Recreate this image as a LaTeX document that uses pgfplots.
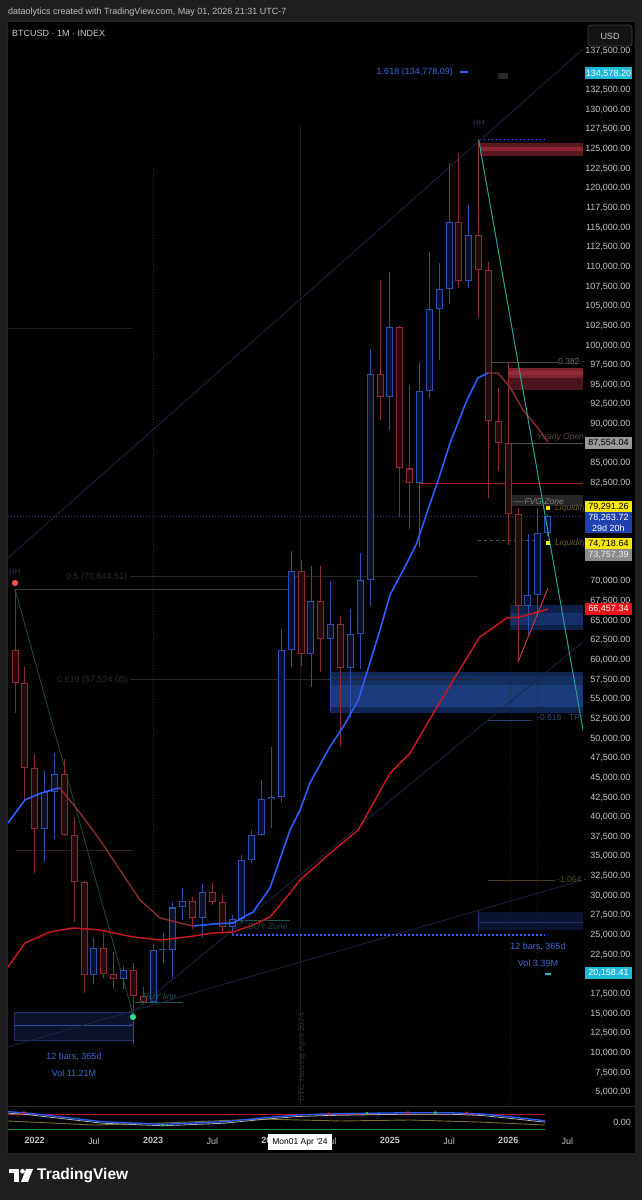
\documentclass[border=0pt]{standalone}
\usepackage{pgfplots}
\pgfplotsset{compat=1.18}
\usepackage{pgfplotstable}
\usepackage{fontspec}
\setmainfont{Liberation Sans}
\usetikzlibrary{arrows.meta}

\definecolor{pagebg}{HTML}{1E1E1E}
\definecolor{tickc}{HTML}{C4C4C4}
\definecolor{upline}{HTML}{2B4FB0}
\definecolor{upfill}{HTML}{0A1230}
\definecolor{dnline}{HTML}{8E2A32}
\definecolor{dnfill}{HTML}{260A0E}
\definecolor{fastblue}{HTML}{2D5CFF}
\definecolor{fastred}{HTML}{8C2A2C}
\definecolor{slowred}{HTML}{C8161D}
\definecolor{tealc}{HTML}{26A69A}
\definecolor{navy}{HTML}{1B2645}
\definecolor{dimg}{HTML}{262626}
\definecolor{measb}{HTML}{3E6AD0}
\definecolor{cyanl}{HTML}{1EB8D8}
\definecolor{yell}{HTML}{F7E600}
\definecolor{zAa}{HTML}{5A1820}
\definecolor{zAb}{HTML}{8C2634}
\definecolor{zBa}{HTML}{4C141C}
\definecolor{zBb}{HTML}{7E2230}
\definecolor{zBc}{HTML}{962A3A}
\definecolor{zCa}{HTML}{0E1F48}
\definecolor{zCb}{HTML}{16306A}
\definecolor{zDa}{HTML}{102553}
\definecolor{zDb}{HTML}{142E62}
\definecolor{zDc}{HTML}{1C3B7C}
\definecolor{fvgc}{HTML}{262626}
\definecolor{mboxa}{HTML}{0A132A}
\definecolor{mborda}{HTML}{1E3264}
\definecolor{marrow}{HTML}{2D4B96}
\definecolor{mboxb}{HTML}{0A1430}
\definecolor{mlineb}{HTML}{1E3470}
\definecolor{brownd}{HTML}{301E16}
\definecolor{redlvl}{HTML}{B01B1B}
\definecolor{curdot}{HTML}{2A3A78}
\definecolor{tpline}{HTML}{2A3F70}
\definecolor{fibline}{HTML}{4A3A22}
\definecolor{buyteal}{HTML}{1A5A50}
\definecolor{greend}{HTML}{1C5034}
\definecolor{pinkc}{HTML}{D03040}
\definecolor{reddot}{HTML}{FF4D4D}
\definecolor{greendot}{HTML}{2FE08A}
\definecolor{indred}{HTML}{B4181E}
\definecolor{indgreen}{HTML}{14961E}
\definecolor{indyel}{HTML}{786E32}
\definecolor{inddotg}{HTML}{28C83C}
\definecolor{inddotr}{HTML}{DC1E28}
\definecolor{fibblue}{HTML}{3A66D8}
\definecolor{hhc}{HTML}{1E3566}
\definecolor{yopen}{HTML}{5A4848}
\definecolor{liq}{HTML}{6A6030}
\definecolor{tptext}{HTML}{2F4A82}
\definecolor{ttext}{HTML}{5A4A30}
\definecolor{buytext}{HTML}{1E4A4A}
\definecolor{curbox}{HTML}{1E40B0}
\definecolor{redbox}{HTML}{E8141A}

\newcommand{\fs}[1]{\fontsize{#1}{#1}\selectfont}

% month index: 0 = Nov 2021
\pgfplotstableread{
i o h l c
3 38500 45820 34320 43200
4 43200 48190 37160 45500
8 19900 24670 18780 23300
11 19400 21000 18180 20500
14 16500 23900 16500 23100
15 23100 25250 21400 23150
16 23150 29180 19570 28500
17 28500 30990 26940 29300
19 27200 31430 24750 30500
22 26000 27480 24900 27000
23 27000 35150 26540 34500
24 34500 38420 34100 37700
25 37700 44700 37600 42300
26 42300 48970 38550 42600
27 42600 63970 41880 61200
28 61200 73800 59100 71300
30 60700 71950 56550 67500
32 62700 70000 53550 64600
34 58970 66500 52550 63300
35 63300 73600 58900 70200
36 70200 99600 66800 96400
38 93400 109300 89200 102400
41 82500 97900 74400 94200
42 94200 111900 93300 104600
43 104600 110500 98200 107150
44 107150 123200 105250 115750
46 108250 117900 107300 114050
52 66900 76000 63000 68200
53 68200 79300 65500 76100
54 76100 78600 75800 78264
}\upc

\pgfplotstableread{
i o h l c
0 61300 69000 53300 57000
1 57000 59100 42000 46300
2 46300 47990 32950 38500
5 45500 47440 37580 37700
6 37700 39980 26700 31800
7 31800 31900 17600 19900
9 23300 25200 19520 20000
10 20000 22800 18150 19400
12 20500 21450 15480 17200
13 17200 18380 16260 16500
18 29300 29820 25820 27200
20 30500 31800 28860 29200
21 29200 30200 25170 26000
29 71300 72770 59190 60700
31 67500 71980 58400 62700
33 64600 65600 49000 58970
37 96400 108300 90500 93400
39 102400 102500 78200 84350
40 84350 95000 76600 82500
45 115750 124450 107300 108250
47 114050 126200 103500 109550
48 109550 110600 80600 90400
49 90400 94600 84000 87554
50 87554 97900 74600 78500
51 78500 79300 59800 66900
}\dnc

\tikzset{px/.style={x=1bp, y=-1bp, shift={(0bp,1200bp)}}}
\pgfplotsset{candle/.style n args={2}{draw=none, mark=none, forget plot,
  error bars/.cd, y dir=plus, y explicit, error mark=none,
  error bar style={draw=#1, line width=#2, solid}}}

\begin{document}
\begin{tikzpicture}
\useasboundingbox (0bp,0bp) rectangle (642bp,1200bp);
\begin{scope}[px]
\fill[pagebg] (0,0) rectangle (642,1200);
\fill[black] (7,21) rectangle (635,1153);
\draw[draw=white!14!black, line width=0.6bp] (7,21) rectangle (635,1153);
\draw[draw=white!16!black, line width=0.8bp] (7,1106.5) -- (635,1106.5);
\end{scope}

\begin{axis}[
  at={(8bp,95bp)}, anchor=south west,
  scale only axis, width=575bp, height=1083bp,
  xmin=-0.7096, xmax=57.577, ymin=3371, ymax=141157,
  axis line style={draw=none}, tick style={draw=none},
  xtick=\empty,
  scaled y ticks=false,
  ytick={5000,7500,10000,12500,15000,17500,22500,25000,27500,30000,32500,35000,37500,40000,42500,45000,47500,50000,52500,55000,57500,60000,62500,65000,67500,70000,82500,85000,90000,92500,95000,97500,100000,102500,105000,107500,110000,112500,115000,117500,120000,122500,125000,127500,130000,132500,137500},
  yticklabel pos=right,
  yticklabel style={font=\fs{9bp}, text=tickc, anchor=east, xshift=51bp,
    /pgf/number format/.cd, fixed, fixed zerofill, precision=2, 1000 sep={,}, assume math mode=true},
  clip=true,
]
% ---- zones ----
\fill[zAa] (axis cs:47.12,124100) rectangle (axis cs:57.6,125800);
\fill[zAb] (axis cs:47.12,124745) rectangle (axis cs:57.6,125254);
\fill[zBa] (axis cs:49.98,94338) rectangle (axis cs:57.6,95865);
\fill[zBb] (axis cs:49.98,95865) rectangle (axis cs:57.6,97137);
\fill[zBc] (axis cs:49.98,96200) rectangle (axis cs:57.6,96700);
\fill[zCa] (axis cs:50.18,63804) rectangle (axis cs:57.6,66985);
\fill[zCb] (axis cs:50.18,64500) rectangle (axis cs:57.6,66000);
\fill[zDa] (axis cs:31.93,53244) rectangle (axis cs:57.6,58460);
\fill[zDb] (axis cs:31.93,56806) rectangle (axis cs:57.6,58000);
\fill[zDc] (axis cs:31.93,54007) rectangle (axis cs:57.6,56806);
\fill[fvgc] (axis cs:49.98,79580) rectangle (axis cs:57.6,80980);
% measurement boxes
\fill[mboxa] (axis cs:-0.10,11641) rectangle (axis cs:11.96,15204);
\draw[mborda, line width=0.8bp] (axis cs:-0.10,11641) rectangle (axis cs:11.96,15204);
\draw[marrow, line width=0.8bp, -{Stealth[length=4bp]}] (axis cs:-0.10,13550) -- (axis cs:11.96,13550);
\draw[marrow, line width=0.8bp] (axis cs:11.96,11000) -- (axis cs:11.96,15204);
\fill[mboxb] (axis cs:46.93,25636) rectangle (axis cs:57.6,27926);
\draw[mlineb, line width=0.8bp] (axis cs:46.93,26654) -- (axis cs:57.6,26654);
\draw[mlineb, line width=0.8bp] (axis cs:46.93,25300) -- (axis cs:46.93,28200);
% ---- horizontal / vertical levels ----
\draw[dimg, line width=0.6bp, dotted] (axis cs:13.99,122960) -- (axis cs:13.99,16730);
\draw[white!10!black, line width=0.6bp] (axis cs:28.89,128000) -- (axis cs:28.89,3371);
\draw[white!13!black, line width=0.6bp, dotted] (axis cs:50.18,80980) -- (axis cs:50.18,3371);
\draw[white!13!black, line width=0.6bp, dotted] (axis cs:52.91,72000) -- (axis cs:52.91,20000);
\draw[white!12!black, line width=0.7bp] (axis cs:-0.71,102226) -- (axis cs:11.96,102226);
\draw[brownd, line width=0.7bp] (axis cs:0,35814) -- (axis cs:11.96,35814);
\draw[dimg, line width=0.7bp] (axis cs:11.66,70644.51) -- (axis cs:46.93,70644.51);
\draw[white!24!black, line width=0.7bp] (axis cs:0,69000) -- (axis cs:27.88,69000);
\draw[dimg, line width=0.7bp] (axis cs:11.66,57524.05) -- (axis cs:46.93,57524.05);
\draw[white!28!black, line width=0.7bp] (axis cs:47.95,97900) -- (axis cs:55.04,97900);
\draw[redlvl, line width=1bp] (axis cs:41.05,82500) -- (axis cs:57.6,82500);
\draw[white!32!black, line width=0.7bp] (axis cs:49.98,87554.04) -- (axis cs:57.6,87554.04);
\draw[curdot, line width=0.8bp, dash pattern=on 1bp off 2bp] (axis cs:-0.71,78263.72) -- (axis cs:57.6,78263.72);
\draw[white!32!black, line width=0.7bp, dash pattern=on 3bp off 3bp] (axis cs:46.93,75254) -- (axis cs:53.73,75254);
\draw[tpline, line width=0.7bp] (axis cs:47.95,52354) -- (axis cs:52.4,52354);
\draw[fibline, line width=0.7bp] (axis cs:47.95,32000) -- (axis cs:54.74,32000);
\draw[fastblue, line width=1.2bp, dash pattern=on 1.5bp off 2.5bp] (axis cs:22.0,25000) -- (axis cs:53.73,25000);
\draw[fastblue, line width=1.2bp, dash pattern=on 1.5bp off 2.5bp] (axis cs:47.12,126200) -- (axis cs:53.73,126200);
\draw[fastblue, line width=1.6bp] (axis cs:45.11,134778.09) -- (axis cs:45.92,134778.09);
\draw[buyteal, line width=0.9bp] (axis cs:22.0,26908) -- (axis cs:27.88,26908);
\draw[buyteal, line width=0.9bp] (axis cs:12.16,16476) -- (axis cs:17.03,16476);
% ---- diagonals ----
\addplot[color=navy, line width=0.8bp] coordinates {(-0.71,72964) (57.58,137722)};
\addplot[color=navy, line width=0.8bp] coordinates {(-0.71,10751) (57.58,31997)};
\addplot[color=navy, line width=0.8bp] coordinates {(11.96,15204) (57.58,62277)};
\addplot[color=greend, line width=0.8bp] coordinates {(0,69000) (11.96,14900)};

% ---- candles: wicks ----
\addplot[candle={dnline}{0.9bp}] table[x=i, y=l, y error plus expr=\thisrow{h}-\thisrow{l}] {\dnc};
\addplot[candle={upline}{0.9bp}] table[x=i, y=l, y error plus expr=\thisrow{h}-\thisrow{l}] {\upc};
% bodies outline
\addplot[candle={dnline}{7bp}] table[x=i, y expr={min(\thisrow{o},\thisrow{c})}, y error plus expr={max(abs(\thisrow{c}-\thisrow{o}),130)}] {\dnc};
\addplot[candle={upline}{7bp}] table[x=i, y expr={min(\thisrow{o},\thisrow{c})}, y error plus expr={max(abs(\thisrow{c}-\thisrow{o}),130)}] {\upc};
% bodies fill
\addplot[candle={dnfill}{5bp}] table[x=i, y expr={min(\thisrow{o},\thisrow{c})+130}, y error plus expr={max(abs(\thisrow{c}-\thisrow{o})-260,0)}] {\dnc};
\addplot[candle={upfill}{5bp}] table[x=i, y expr={min(\thisrow{o},\thisrow{c})+130}, y error plus expr={max(abs(\thisrow{c}-\thisrow{o})-260,0)}] {\upc};

% ---- moving averages ----
\addplot[color=slowred, line width=1.5bp] coordinates {(-0.71,20929) (1.01,23982) (3.55,25382) (5.88,25891) (8.62,25636) (11.96,24746) (14.70,24364) (17.44,24746) (20.07,25254) (22.1,25382) (24.13,26272) (25.85,27290) (27.88,30344) (28.89,31997) (31.93,35395) (34.80,38359) (38.01,45573) (40.04,48117) (42.40,53206) (44.43,57443) (47.14,62952) (49.87,65331) (51.19,65458) (54.03,66457)};
\addplot[color=fastblue, line width=1.6bp] coordinates {(-0.71,39249) (1.01,42175) (2.5,43000) (4.05,43575) (4.56,43702)};
\addplot[color=fastred, line width=1.4bp] coordinates {(4.56,43702) (6.59,40522) (8.62,37086) (10.64,33270) (12.67,29453) (14.70,27163) (16.73,26527) (18.04,26145)};
\addplot[color=fastblue, line width=1.6bp] coordinates {(18.04,26145) (20.07,26400) (22.1,26527) (24.13,27926) (25.85,30980) (27.88,38359) (28.89,40900) (29.90,44338) (31.93,48957) (33.28,51502) (34.80,54898) (35.65,58295) (37.0,63804) (38.01,68257) (39.71,72290) (40.72,74835) (41.73,78652) (42.91,82888) (44.10,87595) (45.82,93066) (46.93,95865) (47.95,96501)};
\addplot[color=fastred, line width=1.4bp] coordinates {(47.95,96501) (48.96,96501) (50.18,94720) (51.50,91794) (52.91,89631) (54.03,87722)};
% teal and pink
\addplot[color=tealc, line width=1bp] coordinates {(47,126200) (57.58,51080)};
\addplot[color=pinkc, line width=1bp] coordinates {(50.99,59733) (54.03,69147)};
% pivot dots
\addplot[only marks, mark=*, mark size=2.8bp, color=reddot] coordinates {(0,69784)};
\addplot[only marks, mark=*, mark size=2.8bp, color=greendot] coordinates {(11.96,14567)};
\end{axis}

% ---- indicator pane ----
\begin{axis}[
  at={(8bp,68bp)}, anchor=south west,
  scale only axis, width=575bp, height=25bp,
  xmin=-0.7096, xmax=57.577, ymin=-1, ymax=1.5,
  axis line style={draw=none}, tick style={draw=none},
  ytick=\empty,
  xtick={2,8,14,20,26,32,38,44,50,56},
  xticklabels={\textbf{2022},Jul,\textbf{2023},Jul,\textbf{2024},Jul,\textbf{2025},Jul,\textbf{2026},Jul},
  xticklabel style={font=\fs{9bp}, text=tickc, yshift=-2bp},
  clip=false,
]
\addplot[color=indred, line width=1.5bp] coordinates {(-0.71,0.77) (53.73,0.77)};
\addplot[color=indgreen, line width=1.5bp] coordinates {(-0.71,-0.73) (53.73,-0.73)};
\addplot[color=indyel, line width=0.9bp] coordinates {(-0.71,0.1) (8,-0.3) (15,-0.1) (25,0.3) (33,0.1) (40,0.2) (47,0.0) (53.73,-0.3)};
\addplot[color=white!70!black, line width=0.8bp] coordinates {(-0.71,0.88) (0.91,0.78) (8.82,-0.12) (15.0,-0.38) (21.19,-0.12) (25.34,0.28) (28.69,0.55) (31.63,0.65) (35.68,0.72) (39.84,0.78) (43.99,0.78) (47.34,0.65) (50.58,0.32) (53.73,-0.02)};
\addplot[color=fastblue, line width=1.3bp] coordinates {(-0.71,1.03) (0.91,0.93) (8.82,0.03) (15.0,-0.23) (21.19,0.03) (25.34,0.43) (28.69,0.7) (31.63,0.8) (35.68,0.87) (39.84,0.93) (43.99,0.93) (47.34,0.8) (50.58,0.47) (53.73,0.13)};
\addplot[only marks, mark=*, mark size=1.3bp, color=inddotg] coordinates {(15.0,-0.3) (35.68,0.87) (42.6,0.92)};
\addplot[only marks, mark=*, mark size=1.3bp, color=inddotr] coordinates {(0.91,0.93) (31.8,0.8) (39.84,0.92) (45.8,0.9)};
\end{axis}

% ---- texts ----
\begin{scope}[px]
\node[anchor=west, font=\fs{9bp}, text=white!75!black, inner sep=0] at (8,12) {dataolytics created with TradingView.com, May 01, 2026 21:31 UTC-7};
\node[anchor=west, font=\fs{9bp}, text=white!80!black, inner sep=0] at (12,33) {BTCUSD · 1M · INDEX};
\draw[rounded corners=3bp, draw=white!25!black, fill=white!8!black, line width=0.7bp] (588,25) rectangle (632,46);
\node[font=\fs{9bp}, text=white!80!black] at (610,36) {USD};

\node[anchor=east, font=\fs{9bp}, text=fibblue, inner sep=0] at (453,72) {1.618 (134,778.09)};
\fill[white!16!black] (498,73) rectangle (508,79);
\node[font=\fs{8bp}, text=hhc] at (479,123) {HH};
\node[font=\fs{8bp}, text=hhc] at (15,572) {HH};
\node[anchor=west, font=\fs{9bp}, text=white!18!black, inner sep=0] at (66,577) {0.5 (70,644.51)};
\node[anchor=west, font=\fs{9bp}, text=white!18!black, inner sep=0] at (57,680) {0.618 (57,524.05)};
\node[anchor=west, font=\fs{8.5bp}, text=white!45!black, inner sep=0] at (558,362) {0.382 -};
\begin{scope}
\clip (8,21) rectangle (583,1106);
\node[anchor=west, font=\fs{8.5bp}\itshape, text=yopen, inner sep=0] at (537,437) {Yearly Open};
\node[anchor=west, font=\fs{8.5bp}\itshape, text=white!50!black, inner sep=0] at (513,502) {----FVG Zone};
\fill[yell] (546,506.5) rectangle (550,510);
\node[anchor=west, font=\fs{8.5bp}\itshape, text=liq, inner sep=0] at (555,508.5) {Liquidity};
\fill[yell] (546,541.5) rectangle (550,545);
\node[anchor=west, font=\fs{8.5bp}\itshape, text=liq, inner sep=0] at (555,543.5) {Liquidity};
\end{scope}
\node[anchor=west, font=\fs{8.5bp}, text=tptext, inner sep=0] at (537,718) {-0.618 · TP*};
\node[anchor=west, font=\fs{8.5bp}, text=ttext, inner sep=0] at (557,880) {-1.064 -};
\node[anchor=west, font=\fs{8.5bp}\itshape, text=buytext, inner sep=0] at (248,927) {BUY Zone};
\node[anchor=west, font=\fs{8.5bp}\itshape, text=buytext, inner sep=0] at (143,996) {BUY line};
\node[font=\fs{9bp}, text=measb] at (74,1057) {12 bars, 365d};
\node[font=\fs{9bp}, text=measb] at (74,1073) {Vol 11.21M};
\node[font=\fs{9bp}, text=measb] at (538,947) {12 bars, 365d};
\node[font=\fs{9bp}, text=measb] at (538,963) {Vol 3.39M};
\fill[cyanl] (545,973) rectangle (551,975);
\node[rotate=90, font=\fs{8.5bp}, text=white!18!black] at (302,1057) {BTC Halving April 2024};

% right price labels
\fill[cyanl] (585,67.5) rectangle (632,79.5);
\node[font=\fs{9bp}, text=white] at (608.5,73.5) {134,578.20};
\fill[white!60!black] (585,437.5) rectangle (632,449);
\node[font=\fs{9bp}, text=black] at (608.5,443.3) {87,554.04};
\fill[yell] (585,501.5) rectangle (632,512.5);
\node[font=\fs{9bp}, text=black] at (608.5,507) {79,291.26};
\fill[curbox] (585,512.5) rectangle (632,533.5);
\node[font=\fs{9bp}, text=white] at (608.5,517.5) {78,263.72};
\node[font=\fs{9bp}, text=white] at (608.5,528) {29d 20h};
\fill[yell] (585,538) rectangle (632,549.5);
\node[font=\fs{9bp}, text=black] at (608.5,543.8) {74,718.64};
\fill[white!55!black] (585,549.5) rectangle (632,561);
\node[font=\fs{9bp}, text=white!92!black] at (608.5,555.3) {73,757.39};
\fill[redbox] (585,603) rectangle (632,615);
\node[font=\fs{9bp}, text=white] at (608.5,609) {66,457.34};
\fill[cyanl] (585,967) rectangle (632,979);
\node[font=\fs{9bp}, text=white] at (608.5,973) {20,158.41};
\node[anchor=east, font=\fs{9bp}, text=tickc, inner sep=0] at (631,1122) {0.00};

% crosshair date label
\fill[white] (268,1134) rectangle (332,1150);
\node[font=\fs{8.5bp}, text=black] at (300,1142) {Mon01 Apr '24};

% TradingView logo
\fill[white] (9,1169) rectangle (19,1173.5);
\fill[white] (14,1169) rectangle (19,1182);
\fill[white] (22.5,1171.3) circle (2.3);
\fill[white] (26,1169) -- (33,1169) -- (28,1182) -- (21,1182) -- cycle;
\node[anchor=west, font=\fs{15.5bp}\bfseries, text=white, inner sep=0] at (37,1176) {TradingView};
\end{scope}
\end{tikzpicture}
\end{document}
